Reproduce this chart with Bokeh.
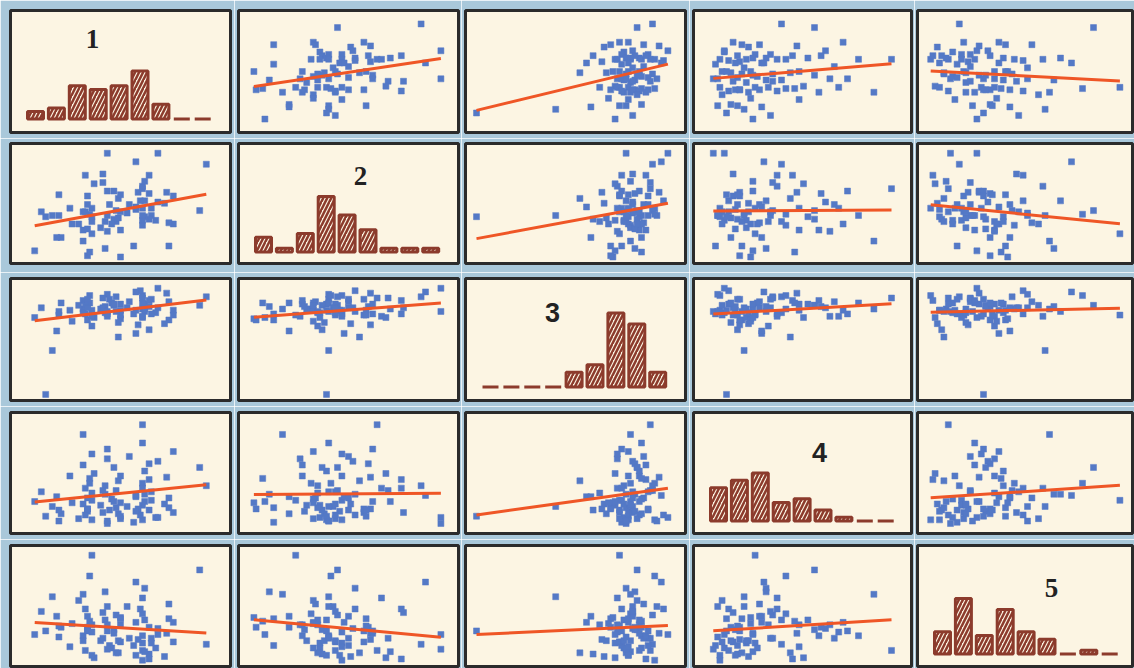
import numpy as np
from bokeh.plotting import figure
from bokeh.layouts import column, row
from bokeh.models import Range1d, Label
from bokeh.embed import file_html
from bokeh.resources import INLINE

# ---- data: five variables, 81 observations (values on a 0-100 display scale) ----
var1 = [86, 89, 72, 74, 72, 74, 71, 70, 67, 66, 64, 63, 61, 64, 60, 60, 60, 60, 61, 59,
        63, 58, 60, 60, 61, 63, 67, 56, 50, 50, 57, 57, 54, 53, 50, 48, 48, 47, 49, 46,
        43, 44, 41, 44, 43, 45, 49, 50, 47, 44, 42, 42, 38, 57, 44, 35, 36, 33, 37, 33,
        35, 37, 37, 36, 33, 34, 37, 35, 35, 34, 31, 28, 27, 23, 21, 22, 19, 16, 14, 22, 11]
var2 = [45, 83, 16, 34, 35, 57, 60, 51, 52, 37, 41, 38, 40, 47, 47, 33, 37, 41, 53, 53,
        59, 60, 63, 65, 69, 74, 92, 16, 7, 29, 46, 48, 50, 43, 44, 45, 36, 38, 39, 34,
        36, 41, 31, 28, 14, 50, 55, 58, 61, 61, 68, 75, 67, 85, 92, 8, 11, 20, 26, 29,
        30, 36, 40, 42, 44, 44, 47, 50, 57, 74, 34, 34, 47, 23, 23, 41, 41, 40, 44, 58, 12]
var3 = [78, 85, 66, 74, 81, 70, 88, 63, 76, 72, 83, 58, 79, 71, 86, 75, 68, 80, 73, 90,
        77, 62, 84, 69, 75, 82, 92, 71, 67, 79, 74, 55, 81, 76, 70, 85, 73, 78, 64, 80,
        72, 87, 75, 69, 77, 83, 52, 74, 79, 71, 84, 76, 68, 89, 73, 66, 80, 75, 70, 82,
        77, 61, 74, 86, 72, 79, 69, 76, 83, 71, 78, 65, 74, 80, 57, 73, 41, 5, 76, 70, 68]
var4 = [55, 40, 22, 68, 30, 18, 47, 25, 60, 14, 35, 20, 52, 28, 12, 42, 24, 75, 33, 16,
        58, 21, 90, 38, 27, 45, 14, 10, 26, 48, 19, 31, 64, 23, 13, 36, 22, 55, 17, 29,
        40, 11, 24, 62, 33, 20, 44, 15, 27, 70, 36, 18, 50, 32, 9, 21, 46, 82, 28, 57,
        19, 34, 12, 42, 25, 16, 66, 30, 21, 38, 13, 26, 48, 17, 31, 11, 23, 15, 35, 20, 27]
var5 = [80, 19, 40, 37, 52, 21, 28, 9, 32, 16, 24, 11, 39, 20, 6, 44, 20, 26, 65, 48,
        33, 23, 14, 57, 13, 7, 27, 18, 41, 35, 10, 37, 24, 50, 21, 43, 12, 31, 22, 16,
        39, 50, 22, 35, 62, 18, 12, 40, 28, 30, 24, 45, 8, 70, 15, 33, 38, 60, 92, 26,
        31, 35, 10, 75, 22, 14, 29, 42, 30, 48, 55, 36, 17, 33, 42, 25, 58, 30, 46, 34, 27]
variables = [var1, var2, var3, var4, var5]

# histogram counts on the diagonal (9 bins each)
hist1 = [2, 3, 9, 8, 9, 13, 4, 0, 0]
hist2 = [4, 1, 5, 15, 10, 6, 1, 1, 1]
hist3 = [0, 0, 0, 0, 4, 6, 20, 17, 4]
hist4 = [9, 11, 13, 5, 6, 3, 1, 0, 0]
hist5 = [6, 15, 5, 12, 6, 4, 0, 1, 0]
histograms = [hist1, hist2, hist3, hist4, hist5]
labels = ["1", "2", "3", "4", "5"]
bins = list(range(9))

# ---- styles / layout ----
PAGE_BG = "#a9c8da"
PANEL_BG = "#fcf5e3"
BORDER = "#2b2b2b"
BLUE = "#5479c6"
RED = "#ef5626"
BROWN = "#8c3b2c"
LABEL_FONTS = ["Liberation Serif", "Liberation Serif", "Liberation Sans",
               "Liberation Sans", "Liberation Serif"]
LABEL_POS = [(82, 28), (122, 32), (87, 34), (126, 40), (134, 42)]  # px from frame top-left

col_mbl = [10, 4, 4, 4, 3]
col_fw = [220, 220, 220, 218, 215]
col_mbr = [4, 3, 4, 3, 2]
row_mbt = [10, 5, 6, 6, 6]
row_fh = [122, 120, 122, 121, 121]
row_mbb = [6, 9, 6, 6, 2]
REF_W, REF_H = 220.0, 122.0
BIN_PX = 20.9      # px per histogram bin
COUNT_PX = 3.7     # px per count
HIST_LEFT = 25.0   # px from frame left to first bin centre
HIST_BASE_TOP = 108.5  # px from frame top to baseline

rows = []
for i in range(5):
    figs = []
    for j in range(5):
        fw, fh = col_fw[j], row_fh[i]
        if i == j:
            xs = -HIST_LEFT / BIN_PX
            xr = Range1d(xs, xs + fw / BIN_PX)
            ye = HIST_BASE_TOP / COUNT_PX
            yr = Range1d(ye - fh / COUNT_PX, ye)
        else:
            xr = Range1d(0, 100 * fw / REF_W)
            yr = Range1d(100 - 100 * fh / REF_H, 100)
        p = figure(width=col_mbl[j] + fw + col_mbr[j],
                   height=row_mbt[i] + fh + row_mbb[i],
                   x_range=xr, y_range=yr,
                   x_axis_type=None, y_axis_type=None, toolbar_location=None,
                   output_backend="svg", title=None,
                   min_border_left=col_mbl[j], min_border_right=col_mbr[j],
                   min_border_top=row_mbt[i], min_border_bottom=row_mbb[i],
                   background_fill_color=PANEL_BG, border_fill_color=PAGE_BG)
        p.outline_line_color = BORDER
        p.outline_line_width = 3
        p.outline_line_alpha = 1.0
        if i == j:
            p.vbar(x=bins, top=histograms[i], bottom=0, width=16 / BIN_PX,
                   fill_color=PANEL_BG, line_color=BROWN, line_width=3,
                   hatch_pattern="/", hatch_color=BROWN, hatch_scale=8,
                   hatch_weight=2.5)
            px, py = LABEL_POS[i]
            p.add_layout(Label(x=xr.start + px / BIN_PX, y=yr.end - py / COUNT_PX,
                               text=labels[i], text_align="center",
                               text_baseline="middle", text_font=LABEL_FONTS[i],
                               text_font_style="bold", text_font_size="27px",
                               text_color="#222222"))
        else:
            x = np.array(variables[j], dtype=float)
            y = np.array(variables[i], dtype=float)
            p.scatter(x, y, marker="square", size=6, fill_color=BLUE,
                      line_color=BLUE, line_width=0.5)
            slope, icpt = np.polyfit(x, y, 1)
            lx = np.array([x.min(), x.max()])
            p.line(lx, slope * lx + icpt, line_color=RED, line_width=3)
        figs.append(p)
    rows.append(row(*figs, spacing=0))

layout = column(*rows, spacing=0)

html = file_html(layout, INLINE)
html = html.replace("<body>", '<body style="background-color:%s;">' % PAGE_BG, 1)
open("out.html", "w").write(html)
